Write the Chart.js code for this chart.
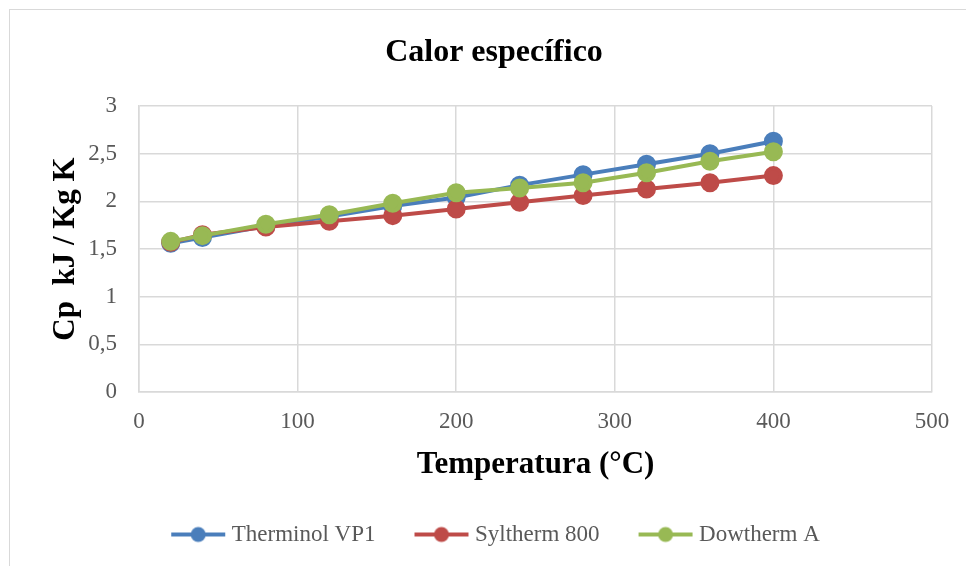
<!DOCTYPE html>
<html>
<head>
<meta charset="utf-8">
<script src="https://cdn.jsdelivr.net/npm/chart.js@4"></script>
<style>
  body { margin: 0; background: #fff; }
  #marco { position: absolute; left: 9px; top: 9px; width: 966px; height: 566px; border: 1px solid #d9d9d9; box-sizing: border-box; }
  #wrap { position: absolute; left: 0; top: 0; width: 966px; height: 566px; }
</style>
</head>
<body>
<div id="marco"></div>
<div id="wrap"><canvas id="grafica"></canvas></div>
<script>
// temperaturas (°C)
const temperaturas = [20, 40, 80, 120, 160, 200, 240, 280, 320, 360, 400];
// Cp kJ/Kg K
const therminol = [1.56, 1.62, 1.74, 1.84, 1.95, 2.04, 2.17, 2.28, 2.39, 2.50, 2.63];
const syltherm = [1.57, 1.65, 1.73, 1.79, 1.85, 1.92, 1.99, 2.06, 2.13, 2.195, 2.27];
const dowtherm = [1.58, 1.64, 1.76, 1.86, 1.98, 2.09, 2.14, 2.195, 2.30, 2.42, 2.52];

const nombres = ["Therminol VP1", "Syltherm 800", "Dowtherm A"];
const colores = ["#4a7ebb", "#be4b48", "#98b954"];

const fuente = "'Liberation Serif', 'Times New Roman', serif";

const puntos = (serie) => temperaturas.map((t, i) => ({ x: t, y: serie[i] }));

// marcador de leyenda: linea con punto
const marcador = (color) => {
  const c = document.createElement("canvas");
  c.width = 100;
  c.height = 18;
  const ctx = c.getContext("2d");
  ctx.strokeStyle = color;
  ctx.lineWidth = 4;
  ctx.beginPath();
  ctx.moveTo(30, 9);
  ctx.lineTo(84, 9);
  ctx.stroke();
  ctx.fillStyle = color;
  ctx.beginPath();
  ctx.arc(57, 9, 7.5, 0, Math.PI * 2);
  ctx.fill();
  return c;
};

const datasets = [therminol, syltherm, dowtherm].map((serie, i) => ({
  label: nombres[i],
  data: puntos(serie),
  borderColor: colores[i],
  backgroundColor: colores[i],
  borderWidth: 4,
  pointRadius: 7.5,
  pointHoverRadius: 7.5,
  showLine: true,
  order: 2 - i,
}));

// centrar titulo y leyenda como en el original
const moverBloques = {
  id: "moverBloques",
  afterLayout: (chart) => {
    chart.legend.left += 20;
    chart.legend.right += 20;
    chart.titleBlock.left += 23;
    chart.titleBlock.right += 23;
  },
};

const config = {
  type: "scatter",
  data: { datasets },
  plugins: [moverBloques],
  options: {
    responsive: false,
    animation: false,
    layout: { padding: { left: 10, right: 34, top: 0, bottom: 10 } },
    plugins: {
      tooltip: { enabled: false },
      title: {
        display: true,
        text: "Calor específico",
        color: "#000",
        font: { family: fuente, size: 32, weight: "bold" },
        padding: { top: 34, bottom: 33.6 },
      },
      legend: {
        position: "bottom",
        labels: {
          usePointStyle: true,
          pointStyleWidth: 58,
          color: "#595959",
          font: { family: fuente, size: 23 },
          padding: 30,
          generateLabels: (chart) =>
            chart.data.datasets.map((ds, i) => ({
              text: ds.label,
              fillStyle: ds.borderColor,
              strokeStyle: ds.borderColor,
              pointStyle: marcador(ds.borderColor),
              fontColor: "#595959",
              datasetIndex: i,
            })),
        },
      },
    },
    scales: {
      x: {
        type: "linear",
        min: 0,
        max: 500,
        ticks: { stepSize: 100, color: "#595959", font: { family: fuente, size: 23 }, padding: 16 },
        grid: { color: "#d9d9d9", lineWidth: 1.5, drawTicks: false },
        border: { color: "#d9d9d9", width: 1.5 },
        title: {
          display: true,
          text: "Temperatura (°C)",
          color: "#000",
          font: { family: fuente, size: 31, weight: "bold" },
          padding: { top: 0, bottom: 9 },
        },
        afterFit: (s) => { s.height = 101; },
      },
      y: {
        min: 0,
        max: 3,
        ticks: {
          stepSize: 0.5,
          color: "#595959",
          font: { family: fuente, size: 23 },
          padding: 22,
          callback: (v) => String(v).replace(".", ","),
        },
        grid: { color: "#d9d9d9", lineWidth: 1.5, drawTicks: false },
        border: { color: "#d9d9d9", width: 1.5 },
        title: {
          display: true,
          text: "Cp  kJ / Kg K",
          color: "#000",
          font: { family: fuente, size: 31, weight: "bold" },
          padding: { top: 37, bottom: 0 },
        },
        afterFit: (s) => { s.width = 129; },
      },
    },
  },
};

const chartDOM = document.getElementById("grafica");
chartDOM.width = 966;
chartDOM.height = 566;
new Chart(chartDOM, config);
</script>
</body>
</html>
